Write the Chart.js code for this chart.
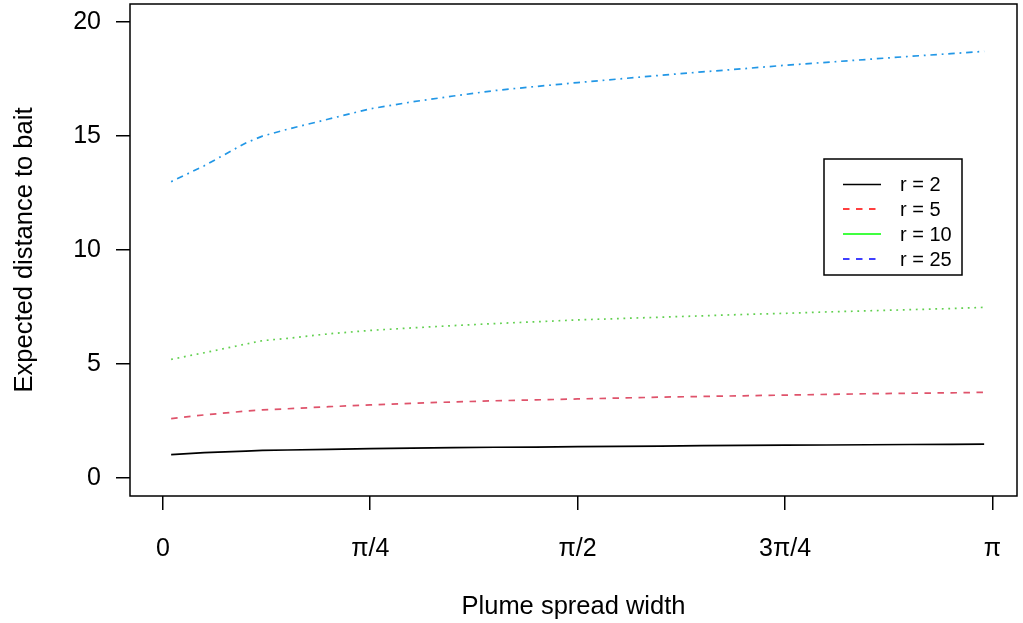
<!DOCTYPE html>
<html>
<head>
<meta charset="utf-8">
<script src="https://cdn.jsdelivr.net/npm/chart.js@4/dist/chart.umd.min.js"></script>
<style>
html, body { margin: 0; padding: 0; background: #ffffff; }
#wrap { width: 1023px; height: 623px; }
</style>
</head>
<body>
<div id="wrap"><canvas id="c" width="1023" height="623"></canvas></div>
<script>
// Plume spread width (radians)
const xValues = [0.0314, 0.1571, 0.3142, 0.3770, 0.4712, 0.6283, 0.7854, 0.9425, 1.0996, 1.2566, 1.4137,
                 1.5708, 1.7279, 1.8850, 2.0420, 2.1991, 2.3562, 2.5133, 2.6704, 2.8274, 2.9845, 3.1102];
const r2Values  = [1.02, 1.10, 1.17, 1.20, 1.22, 1.25, 1.28, 1.30, 1.32, 1.34, 1.35,
                   1.37, 1.38, 1.39, 1.41, 1.42, 1.43, 1.44, 1.45, 1.46, 1.47, 1.48];
const r5Values  = [2.60, 2.76, 2.93, 2.98, 3.03, 3.12, 3.20, 3.27, 3.33, 3.38, 3.42,
                   3.46, 3.50, 3.54, 3.57, 3.60, 3.63, 3.66, 3.69, 3.71, 3.73, 3.75];
const r10Values = [5.20, 5.49, 5.87, 6.02, 6.12, 6.32, 6.47, 6.58, 6.68, 6.77, 6.85,
                   6.93, 6.99, 7.05, 7.11, 7.17, 7.22, 7.28, 7.33, 7.38, 7.43, 7.48];
const r25Values = [13.00, 13.70, 14.70, 15.00, 15.30, 15.75, 16.20, 16.50, 16.76, 17.00, 17.18,
                   17.35, 17.51, 17.67, 17.82, 17.96, 18.11, 18.24, 18.37, 18.50, 18.62, 18.72];

const xTickValues = [0, Math.PI / 4, Math.PI / 2, 3 * Math.PI / 4, Math.PI];
const xTickLabels = ['0', 'π/4', 'π/2', '3π/4', 'π'];
const yTickValues = [0, 5, 10, 15, 20];

const legendLabels = ['r = 2', 'r = 5', 'r = 10', 'r = 25'];
const legendColors = ['#000000', '#FF0000', '#00FF00', '#0000FF'];
const legendDashes = [[], [6.5, 6.5], [], [6.5, 6.5]];

const FONT = 'Liberation Sans, Arial, sans-serif';

function toPoints(ys) { return xValues.map((x, i) => ({ x: x, y: ys[i] })); }

const boxPlugin = {
  id: 'rbox',
  afterDraw(chart) {
    const ctx = chart.ctx, a = chart.chartArea;
    ctx.save();
    ctx.strokeStyle = '#000';
    ctx.lineWidth = 1.5;
    ctx.strokeRect(a.left, a.top, a.right - a.left, a.bottom - a.top);
    // legend
    const lx = 824, ly = 159, lw = 138, lh = 116;
    ctx.fillStyle = '#fff';
    ctx.fillRect(lx, ly, lw, lh);
    ctx.strokeRect(lx, ly, lw, lh);
    ctx.font = '20px ' + FONT;
    ctx.textBaseline = 'middle';
    ctx.textAlign = 'left';
    const rows = [184.5, 209, 234, 259];
    for (let i = 0; i < legendLabels.length; i++) {
      ctx.beginPath();
      ctx.setLineDash(legendDashes[i]);
      ctx.strokeStyle = legendColors[i];
      ctx.lineWidth = 1.5;
      ctx.moveTo(843, rows[i]);
      ctx.lineTo(881, rows[i]);
      ctx.stroke();
      ctx.setLineDash([]);
      ctx.fillStyle = '#000';
      ctx.fillText(legendLabels[i], 900, rows[i] + 1);
    }
    ctx.restore();
  }
};

new Chart(document.getElementById('c'), {
  type: 'scatter',
  data: {
    datasets: [
      { label: 'r = 2',  data: toPoints(r2Values),  borderColor: '#000000', borderDash: [] },
      { label: 'r = 5',  data: toPoints(r5Values),  borderColor: '#DF536B', borderDash: [6.5, 6.5] },
      { label: 'r = 10', data: toPoints(r10Values), borderColor: '#61D04F', borderDash: [1.8, 4.7] },
      { label: 'r = 25', data: toPoints(r25Values), borderColor: '#2297E6', borderDash: [1.8, 4.8, 6.5, 4.8] }
    ].map(d => Object.assign(d, { showLine: true, pointRadius: 0, borderWidth: 1.7, tension: 0, fill: false }))
  },
  options: {
    responsive: false,
    animation: false,
    devicePixelRatio: 1,
    layout: { padding: { left: 0, right: 6, top: 4, bottom: 0 } },
    plugins: { legend: { display: false }, tooltip: { enabled: false } },
    scales: {
      x: {
        type: 'linear',
        min: -0.1244,
        max: 3.2346,
        afterFit(s) { s.height = 127; s.paddingLeft = 0; s.paddingRight = 0; },
        afterBuildTicks(s) { s.ticks = xTickValues.map(v => ({ value: v })); },
        ticks: {
          autoSkip: false,
          maxRotation: 0,
          padding: 24,
          color: '#000',
          font: { family: FONT, size: 25 },
          callback(v, i) { return xTickLabels[i]; }
        },
        grid: { drawOnChartArea: false, drawTicks: true, tickLength: 14, color: '#000', lineWidth: 1.5 },
        border: { display: false },
        title: { display: true, text: 'Plume spread width', color: '#000', font: { family: FONT, size: 25.5 }, padding: { top: 0, bottom: 1 } }
      },
      y: {
        type: 'linear',
        min: -0.8,
        max: 20.8,
        afterFit(s) { s.width = 130; s.paddingTop = 0; s.paddingBottom = 0; },
        afterBuildTicks(s) { s.ticks = yTickValues.map(v => ({ value: v })); },
        ticks: {
          autoSkip: false,
          padding: 15,
          color: '#000',
          font: { family: FONT, size: 25 },
          callback(v) { return String(v); }
        },
        grid: { drawOnChartArea: false, drawTicks: true, tickLength: 14, color: '#000', lineWidth: 1.5 },
        border: { display: false },
        title: { display: true, text: 'Expected distance to bait', color: '#000', font: { family: FONT, size: 25.5 }, padding: { top: 10, bottom: 0 } }
      }
    }
  },
  plugins: [boxPlugin]
});
</script>
</body>
</html>
